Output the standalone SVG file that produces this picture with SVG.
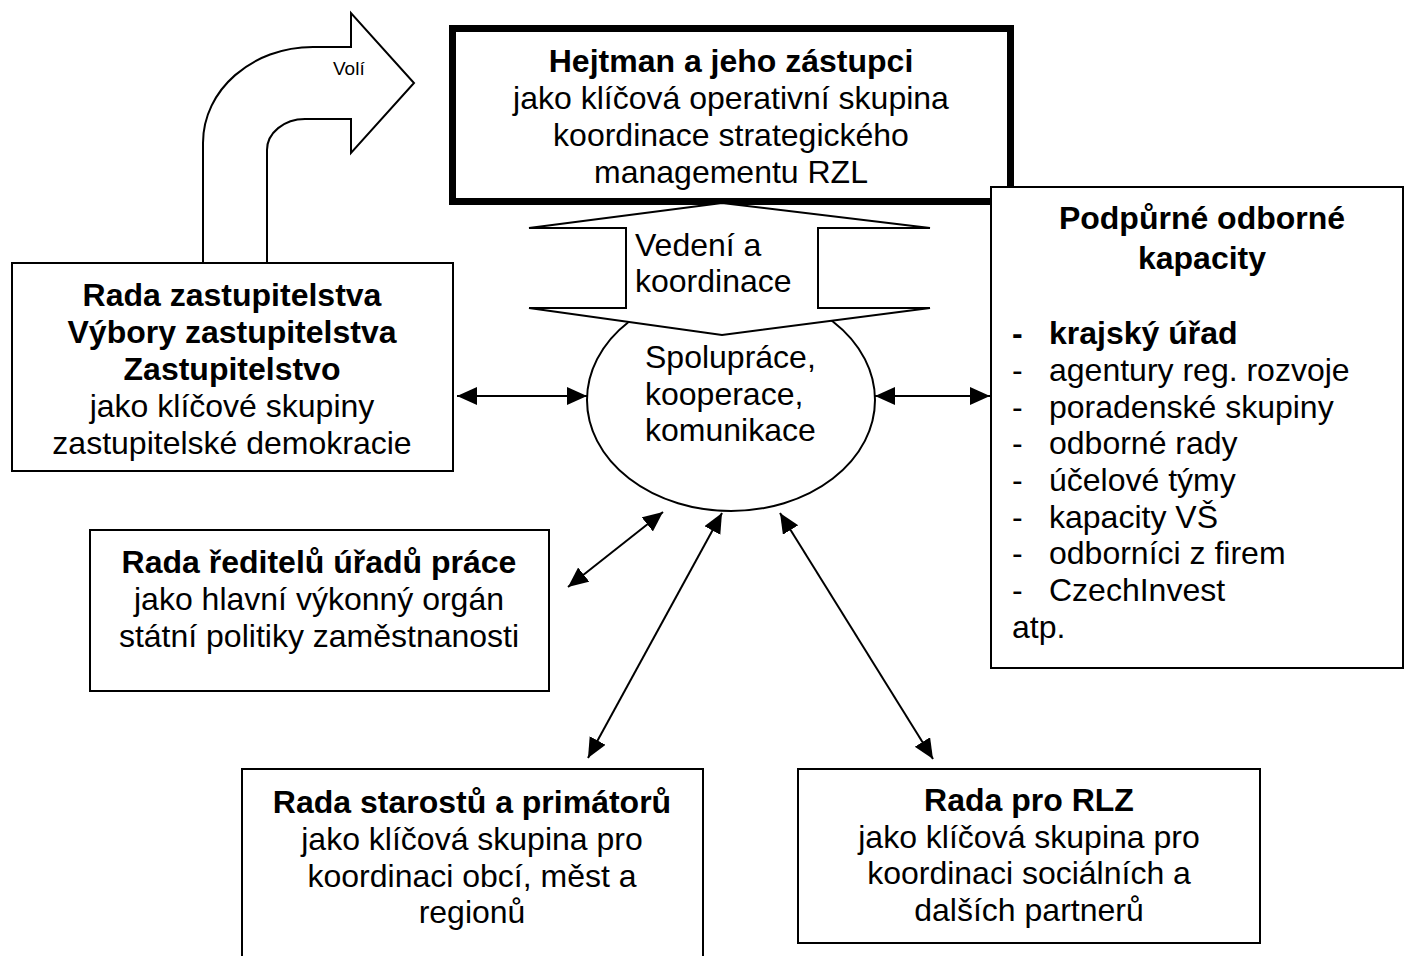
<svg xmlns="http://www.w3.org/2000/svg" width="1405" height="956" viewBox="0 0 1405 956">
<style>
text{font-family:"Liberation Sans",Arial,sans-serif;font-size:32px;fill:#000}
.b{font-weight:bold}
.c{text-anchor:middle}
.box{fill:#fff;stroke:#000;stroke-width:2}
.con{stroke:#000;stroke-width:2;fill:none;marker-start:url(#ah);marker-end:url(#ah)}
</style>
<defs>
<marker id="ah" markerUnits="userSpaceOnUse" markerWidth="22" markerHeight="20" refX="20" refY="9" orient="auto-start-reverse">
<path d="M0,0 L20,9 L0,18 Z" fill="#000"/>
</marker>
</defs>
<rect width="1405" height="956" fill="#fff"/>

<g id="ellipse-node">
<ellipse cx="731" cy="400" rx="144" ry="111" fill="#fff" stroke="#000" stroke-width="2"/>
<text x="645" y="368">Spolupráce,</text>
<text x="645" y="405">kooperace,</text>
<text x="645" y="441">komunikace</text>
</g>

<g id="hejtman">
<rect x="452.5" y="28.5" width="558" height="173" fill="#fff" stroke="#000" stroke-width="7"/>
<text class="c b" x="731" y="72">Hejtman a jeho zástupci</text>
<text class="c" x="731" y="109">jako klíčová operativní skupina</text>
<text class="c" x="731" y="146">koordinace strategického</text>
<text class="c" x="731" y="183">managementu RZL</text>
</g>

<g id="vedeni">
<path d="M722,203 L930,228 L818,228 L818,308 L930,308 L722,335 L529,308 L626,308 L626,228 L529,228 Z" fill="#fff" stroke="#000" stroke-width="2" stroke-linejoin="miter"/>
<text x="635" y="256">Vedení a</text>
<text x="635" y="292">koordinace</text>
</g>

<g id="voli">
<path d="M203,263 L203,143 C203,90 252,47 313,47 L351,47 L351,13 L414,83 L351,153 L351,119 L305,119 C284,119 267,133 267,150 L267,263 Z" fill="#fff" stroke="#000" stroke-width="2"/>
<text x="333" y="75" style="font-size:19px">Volí</text>
</g>

<g id="zastupitelstvo">
<rect class="box" x="12" y="263" width="441" height="208"/>
<text class="c b" x="232" y="306">Rada zastupitelstva</text>
<text class="c b" x="232" y="343">Výbory zastupitelstva</text>
<text class="c b" x="232" y="380">Zastupitelstvo</text>
<text class="c" x="232" y="417">jako klíčové skupiny</text>
<text class="c" x="232" y="454">zastupitelské demokracie</text>
</g>

<g id="podpurne">
<rect class="box" x="991" y="187" width="412" height="481"/>
<text class="c b" x="1202" y="229">Podpůrné odborné</text>
<text class="c b" x="1202" y="269">kapacity</text>
<text class="b" x="1012" y="344">-</text><text class="b" x="1049" y="344">krajský úřad</text>
<text x="1012" y="381">-</text><text x="1049" y="381">agentury reg. rozvoje</text>
<text x="1012" y="418">-</text><text x="1049" y="418">poradenské skupiny</text>
<text x="1012" y="454">-</text><text x="1049" y="454">odborné rady</text>
<text x="1012" y="491">-</text><text x="1049" y="491">účelové týmy</text>
<text x="1012" y="528">-</text><text x="1049" y="528">kapacity VŠ</text>
<text x="1012" y="564">-</text><text x="1049" y="564">odborníci z firem</text>
<text x="1012" y="601">-</text><text x="1049" y="601">CzechInvest</text>
<text x="1012" y="638">atp.</text>
</g>

<g id="reditelu">
<rect class="box" x="90" y="530" width="459" height="161"/>
<text class="c b" x="319" y="573">Rada ředitelů úřadů práce</text>
<text class="c" x="319" y="610">jako hlavní výkonný orgán</text>
<text class="c" x="319" y="647">státní politiky zaměstnanosti</text>
</g>

<g id="starostu">
<rect class="box" x="242" y="769" width="461" height="200"/>
<text class="c b" x="472" y="813">Rada starostů a primátorů</text>
<text class="c" x="472" y="850">jako klíčová skupina pro</text>
<text class="c" x="472" y="887">koordinaci obcí, měst a</text>
<text class="c" x="472" y="923">regionů</text>
</g>

<g id="rlz">
<rect class="box" x="798" y="769" width="462" height="174"/>
<text class="c b" x="1029" y="811">Rada pro RLZ</text>
<text class="c" x="1029" y="848">jako klíčová skupina pro</text>
<text class="c" x="1029" y="884">koordinaci sociálních a</text>
<text class="c" x="1029" y="921">dalších partnerů</text>
</g>

<g id="connectors">
<line class="con" x1="457" y1="396" x2="587" y2="396"/>
<line class="con" x1="875" y1="396" x2="990" y2="396"/>
<line class="con" x1="568" y1="587" x2="663" y2="512"/>
<line class="con" x1="588" y1="758" x2="722" y2="513"/>
<line class="con" x1="933" y1="759" x2="780" y2="513"/>
</g>
</svg>
